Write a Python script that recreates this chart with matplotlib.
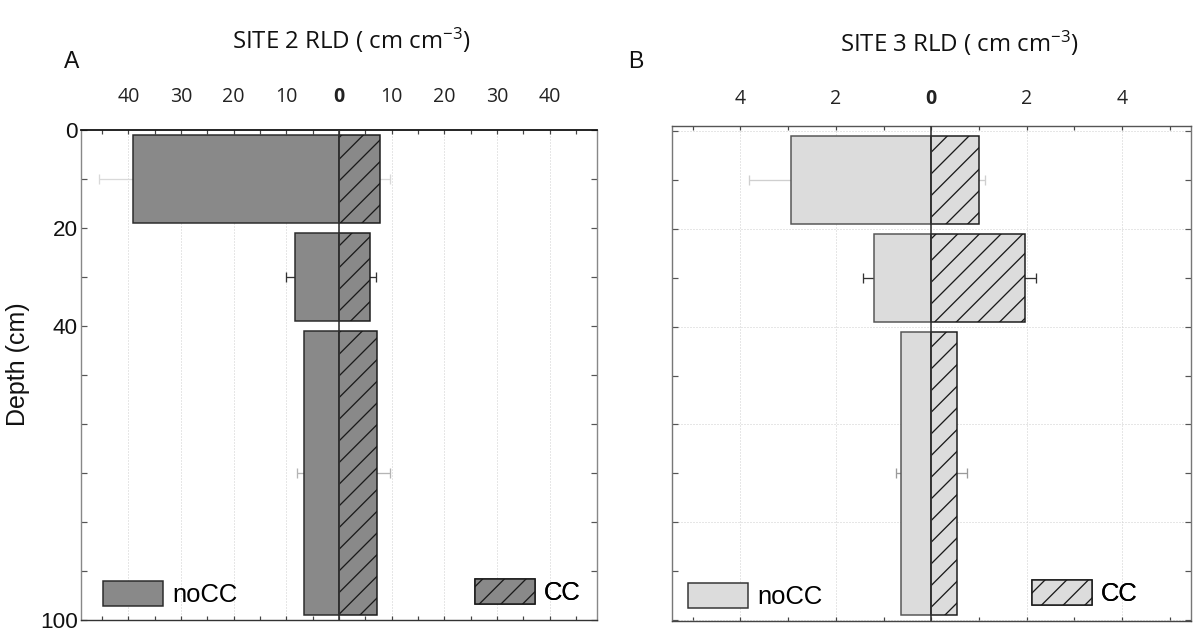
import matplotlib
matplotlib.use("Agg")
import matplotlib.pyplot as plt
from matplotlib.patches import Patch
from matplotlib.ticker import MultipleLocator, FixedLocator

DPI = 130
W, H = 1195, 631


def pt(px):
    return px * 72.0 / DPI


plt.rcParams["mathtext.fontset"] = "custom"
plt.rcParams["mathtext.rm"] = "Open Sans"
plt.rcParams["mathtext.it"] = "Open Sans:italic"
plt.rcParams["mathtext.bf"] = "Open Sans:bold"
plt.rcParams["hatch.linewidth"] = pt(1.3)

# ---------------- data ----------------
depth_layers = [(0, 20), (20, 40), (40, 100)]
site2_nocc = [39.2, 8.45, 6.7]
site2_nocc_err = [6.4, 1.6, 1.2]
site2_cc = [7.8, 5.9, 7.2]
site2_cc_err = [1.9, 1.2, 2.4]
site3_nocc = [2.94, 1.20, 0.64]
site3_nocc_err = [0.87, 0.22, 0.10]
site3_cc = [1.00, 1.97, 0.54]
site3_cc_err = [0.13, 0.22, 0.20]
site2_xticks = [-40, -30, -20, -10, 0, 10, 20, 30, 40]
site3_xticks = [-4, -2, 0, 2, 4]
depth_tick_labels = {0: "0", 20: "20", 40: "40", 100: "100"}
titles = ["SITE 2 RLD ( cm cm$^{\\mathrm{-3}}$)", "SITE 3 RLD ( cm cm$^{\\mathrm{-3}}$)"]
panel_letters = ["A", "B"]
legend_labels = ["noCC", "CC"]

fig = plt.figure(figsize=(W / DPI, H / DPI), dpi=DPI)


def add_axes_px(l, t, r, b):
    return fig.add_axes([l / W, 1 - b / H, (r - l) / W, (b - t) / H])


axA = add_axes_px(81, 130, 597, 620)
axB = add_axes_px(672, 125.7, 1191, 620.5)

sans = ["Liberation Sans", "DejaVu Sans"]
osans = ["Open Sans", "DejaVu Sans"]
HATCH = "//"


def draw_panel(ax, nocc, nocc_err, cc, cc_err, face, edge, err_colors, xlim, ylim,
               xticks, minor_step, ygrid, label_pad):
    centers = [(a + b) / 2 for a, b in depth_layers]
    heights = [(b - a) - 2 for a, b in depth_layers]
    for i in range(len(centers)):
        ax.errorbar(-nocc[i], centers[i], xerr=nocc_err[i], color=err_colors[i],
                    lw=pt(1.3), capsize=pt(5), capthick=pt(1.3), zorder=1)
        ax.errorbar(cc[i], centers[i], xerr=cc_err[i], color=err_colors[i],
                    lw=pt(1.3), capsize=pt(5), capthick=pt(1.3), zorder=1)
    ax.barh(centers, [-v for v in nocc], height=heights, left=0, color=face,
            edgecolor=edge, linewidth=pt(1.5), zorder=2)
    ax.barh(centers, cc, height=heights, left=0, color=face, hatch=HATCH,
            edgecolor="#1a1a1a", linewidth=pt(1.5), zorder=2)
    ax.axvline(0, color="#333333", lw=pt(1.6), zorder=4)
    ax.set_xlim(*xlim)
    ax.set_ylim(*ylim)
    ax.xaxis.set_major_locator(FixedLocator(xticks))
    ax.xaxis.set_minor_locator(MultipleLocator(minor_step))
    ax.set_xticks(xticks, labels=[f"{abs(v):g}" for v in xticks])
    ax.set_yticks([0, 20, 40, 60, 80, 100],
                  labels=[depth_tick_labels.get(v, "") for v in [0, 20, 40, 60, 80, 100]])
    ax.yaxis.set_minor_locator(MultipleLocator(10))
    ax.tick_params(axis="x", which="both", top=True, bottom=True, labeltop=True,
                   labelbottom=False, direction="in", length=pt(4),
                   width=pt(1.2), color="#444444", pad=pt(label_pad))
    ax.tick_params(axis="y", which="both", left=True, right=True, direction="in",
                   length=pt(6), width=pt(1.2), color="#555555", labelleft=False)
    for tick in ax.xaxis.get_major_ticks():
        tick.label2.set_fontfamily(osans)
        tick.label2.set_fontsize(pt(19.5))
        tick.label2.set_color("#222222")
    for tick, v in zip(ax.xaxis.get_major_ticks(), xticks):
        if v == 0:
            tick.label2.set_fontweight("bold")
    ax.grid(axis="x", which="major", linestyle=(0, (1, 2)), color="#cfcfcf",
            lw=pt(1.0), zorder=0)
    if ygrid:
        ax.grid(axis="y", which="major", linestyle=(0, (1, 2)), color="#cfcfcf",
                lw=pt(1.0), zorder=0)
    ax.set_axisbelow(True)


draw_panel(axA, site2_nocc, site2_nocc_err, site2_cc, site2_cc_err,
           "#898989", "#2a2a2a", ["#d9d9d9", "#333333", "#b5b5b5"],
           (-49, 49), (100, 0), site2_xticks, 5, False, 23)
draw_panel(axB, site3_nocc, site3_nocc_err, site3_cc, site3_cc_err,
           "#dcdcdc", "#555555", ["#cfcfcf", "#333333", "#9a9a9a"],
           (-5.43, 5.44), (100.1, -1.1), site3_xticks, 1, True, 17)

# y labels on panel A only
axA.tick_params(axis="y", labelleft=True, pad=pt(3))
for lab in axA.get_yticklabels():
    lab.set_fontfamily(sans)
    lab.set_fontsize(pt(22.5))
    lab.set_color("#111111")

# spines
for ax in (axA, axB):
    for s in ax.spines.values():
        s.set_linewidth(pt(1.4))
axA.spines["top"].set_color("#111111")
axA.spines["top"].set_linewidth(pt(1.8))
axA.spines["bottom"].set_color("#333333")
axA.spines["left"].set_color("#888888")
axA.spines["right"].set_color("#888888")
axB.spines["top"].set_color("#555555")
axB.spines["bottom"].set_color("#444444")
axB.spines["left"].set_color("#777777")
axB.spines["right"].set_color("#777777")

# titles and letters
fig.text(351 / W, 1 - 40 / H, titles[0], ha="center", va="center",
         fontfamily=osans, fontsize=pt(24), color="#111111")
fig.text(959 / W, 1 - 43 / H, titles[1], ha="center", va="center",
         fontfamily=osans, fontsize=pt(24), color="#111111")
fig.text(72 / W, 1 - 61 / H, panel_letters[0], ha="center", va="center",
         fontfamily=sans, fontsize=pt(23), color="#111111")
fig.text(636 / W, 1 - 62 / H, panel_letters[1], ha="center", va="center",
         fontfamily=sans, fontsize=pt(23), color="#111111")
fig.text(18 / W, 1 - 364 / H, "Depth (cm)", ha="center", va="center",
         rotation=90, fontfamily=sans, fontsize=pt(25), color="#111111")

# legends
leg_fs = pt(25.6)


def add_leg(ax, handle, label, x_px, y_px):
    lg = ax.legend(handles=[handle], labels=[label], loc="lower left",
                   bbox_to_anchor=(x_px / W, 1 - y_px / H), bbox_transform=fig.transFigure,
                   frameon=False, borderpad=0, borderaxespad=0, handlelength=2.34,
                   handleheight=1.1, handletextpad=0.35,
                   prop={"family": sans, "size": leg_fs})
    ax.add_artist(lg)
    return lg


add_leg(axA, Patch(facecolor="#898989", edgecolor="#2a2a2a", lw=pt(1.5)),
        legend_labels[0], 103, 607)
add_leg(axA, Patch(facecolor="#898989", edgecolor="#1a1a1a", hatch=HATCH, lw=pt(1.5)),
        legend_labels[1], 475, 605)
add_leg(axB, Patch(facecolor="#dcdcdc", edgecolor="#333333", lw=pt(1.5)),
        legend_labels[0], 688, 609)
add_leg(axB, Patch(facecolor="#dcdcdc", edgecolor="#1a1a1a", hatch=HATCH, lw=pt(1.5)),
        legend_labels[1], 1032, 606)

fig.savefig("out.png", dpi=DPI)
